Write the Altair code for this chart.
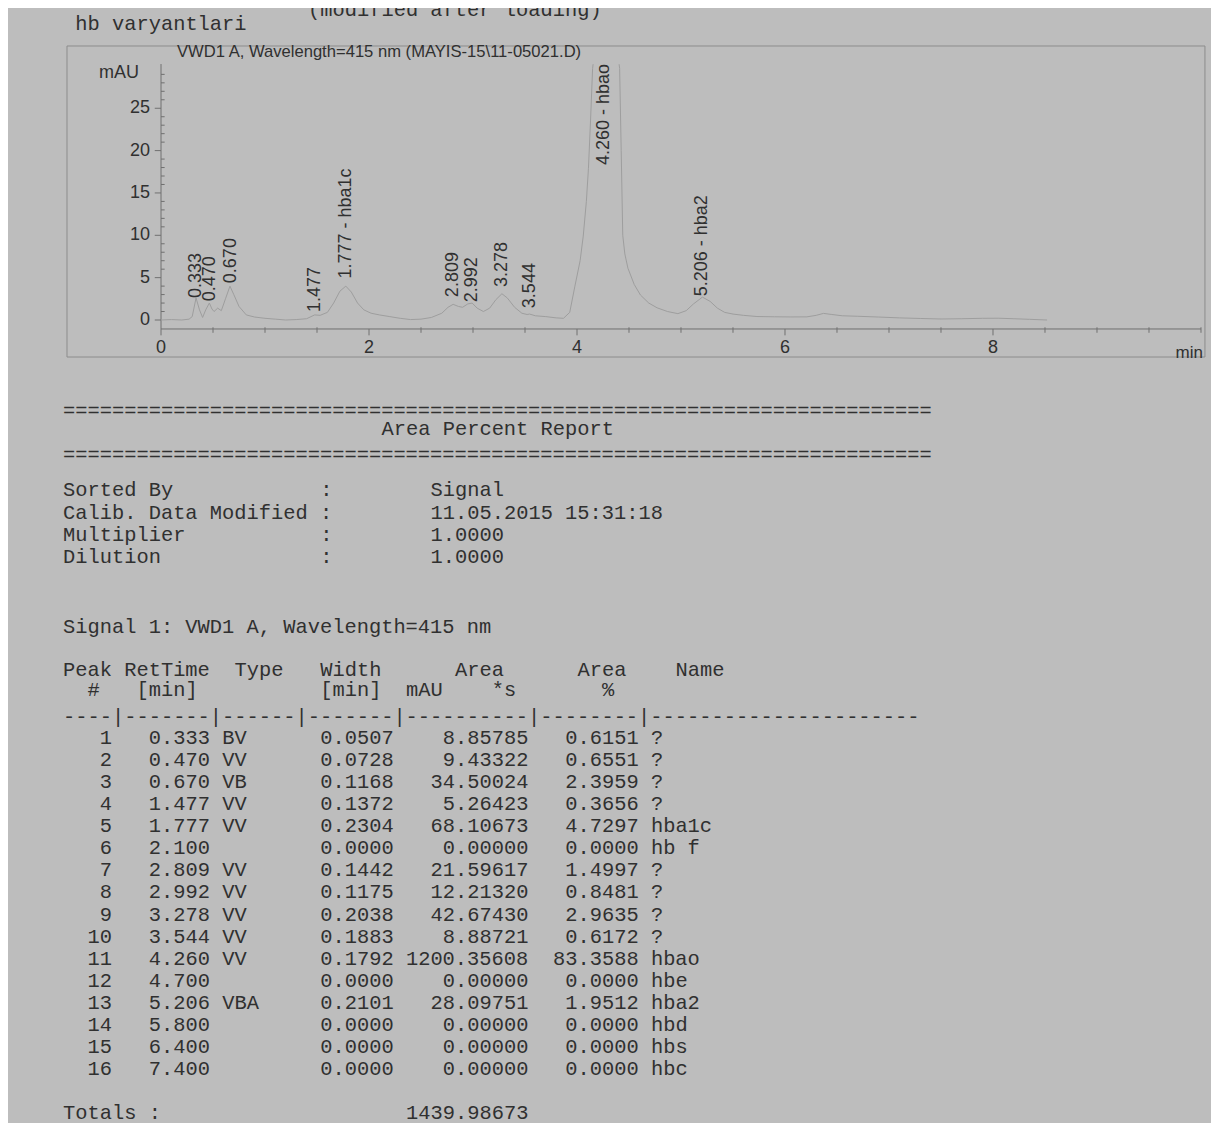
import re
import altair as alt
import pandas as pd

# ---------------- chromatogram trace (min, mAU) ----------------
# part before the off-scale hbao apex
trace_a_time = [0.00, 0.10, 0.20, 0.27, 0.30, 0.337, 0.37, 0.40, 0.43, 0.465,
                0.49, 0.51, 0.545, 0.58, 0.62, 0.663, 0.70, 0.75, 0.82, 0.90,
                1.00, 1.10, 1.20, 1.30, 1.40, 1.477, 1.53, 1.60, 1.66, 1.72,
                1.777, 1.83, 1.89, 1.95, 2.02, 2.10, 2.20, 2.30, 2.40, 2.50,
                2.60, 2.70, 2.76, 2.809, 2.86, 2.90, 2.95, 2.992, 3.04, 3.10,
                3.16, 3.22, 3.278, 3.33, 3.40, 3.47, 3.52, 3.544, 3.60, 3.70,
                3.80, 3.87, 3.93, 3.98, 4.03, 4.06, 4.09, 4.11, 4.13, 4.15, 4.155]
trace_a_mau = [0.00, 0.05, 0.00, 0.10, 0.40, 2.60, 1.20, 0.30, 1.20, 2.00,
               1.30, 1.00, 1.40, 1.10, 2.50, 4.00, 3.00, 1.60, 0.60, 0.35,
               0.20, 0.10, 0.00, 0.05, 0.15, 0.60, 0.55, 0.90, 2.00, 3.40,
               4.00, 3.30, 2.00, 1.20, 0.80, 0.60, 0.40, 0.20, 0.05, 0.10,
               0.30, 0.80, 1.50, 1.85, 1.60, 1.50, 1.90, 2.00, 1.40, 1.00,
               1.40, 2.40, 3.10, 2.60, 1.50, 0.80, 0.65, 0.70, 0.50, 0.40,
               0.25, 0.20, 0.90, 4.00, 7.00, 9.90, 14.00, 17.90, 23.50, 29.70, 30.20]
# part after the off-scale hbao apex
trace_b_time = [4.405, 4.41, 4.425, 4.44, 4.46, 4.49, 4.55, 4.61, 4.69, 4.77,
                4.87, 4.97, 5.05, 5.12, 5.206, 5.28, 5.35, 5.42, 5.50, 5.60,
                5.73, 5.90, 6.05, 6.21, 6.30, 6.37, 6.45, 6.55, 6.70, 6.90,
                7.10, 7.30, 7.50, 7.70, 7.90, 8.05, 8.20, 8.35, 8.52]
trace_b_mau = [30.20, 29.70, 20.00, 10.00, 7.80, 6.10, 4.20, 2.95, 2.00, 1.44,
               1.00, 0.75, 1.10, 1.90, 2.70, 2.20, 1.40, 0.90, 0.70, 0.55,
               0.41, 0.38, 0.36, 0.37, 0.55, 0.78, 0.65, 0.50, 0.44, 0.35,
               0.25, 0.18, 0.12, 0.15, 0.20, 0.21, 0.15, 0.08, 0.00]

peak_label_time = [0.333, 0.470, 0.670, 1.477, 1.777, 2.809, 2.992, 3.278, 3.544, 4.260, 5.206]
peak_label_text = ["0.333", "0.470", "0.670", "1.477", "1.777 - hba1c", "2.809", "2.992",
                   "3.278", "3.544", "4.260 - hbao", "5.206 - hba2"]
peak_label_mau = [2.6, 2.2, 4.35, 0.93, 4.9, 2.7, 2.1, 3.9, 1.4, 18.3, 2.8]

y_tick_labels = [0, 5, 10, 15, 20, 25]
y_minor_ticks = [v for v in range(0, 31) if v % 5 != 0]
x_tick_labels = [0, 2, 4, 6, 8]
x_minor_ticks = [i / 2 for i in range(1, 21) if (i / 2) not in (2.0, 4.0, 6.0, 8.0)]

chart_title = "VWD1 A, Wavelength=415 nm (MAYIS-15\\11-05021.D)"

# ---------------- report table ----------------
peak_no = list(range(1, 17))
ret_time = [0.333, 0.470, 0.670, 1.477, 1.777, 2.100, 2.809, 2.992,
            3.278, 3.544, 4.260, 4.700, 5.206, 5.800, 6.400, 7.400]
peak_type = ["BV", "VV", "VB", "VV", "VV", "", "VV", "VV",
             "VV", "VV", "VV", "", "VBA", "", "", ""]
peak_width = [0.0507, 0.0728, 0.1168, 0.1372, 0.2304, 0.0000, 0.1442, 0.1175,
              0.2038, 0.1883, 0.1792, 0.0000, 0.2101, 0.0000, 0.0000, 0.0000]
peak_area = [8.85785, 9.43322, 34.50024, 5.26423, 68.10673, 0.00000, 21.59617, 12.21320,
             42.67430, 8.88721, 1200.35608, 0.00000, 28.09751, 0.00000, 0.00000, 0.00000]
area_pct = [0.6151, 0.6551, 2.3959, 0.3656, 4.7297, 0.0000, 1.4997, 0.8481,
            2.9635, 0.6172, 83.3588, 0.0000, 1.9512, 0.0000, 0.0000, 0.0000]
peak_name = ["?", "?", "?", "?", "hba1c", "hb f", "?", "?",
             "?", "?", "hbao", "hbe", "hba2", "hbd", "hbs", "hbc"]
total_area = "1439.98673"

meta_labels = ["Sorted By", "Calib. Data Modified", "Multiplier", "Dilution"]
meta_values = ["Signal", "11.05.2015 15:31:18", "1.0000", "1.0000"]

# ---------------- geometry / style ----------------
W, H = 1203, 1115
BG = "#bdbdbd"
INK = "#303030"
TRACE_C = "#9e9e9e"
AXIS_C = "#707070"
FRAME_C = "#8c8c8c"
SANS = "Liberation Sans"
MONO = "Liberation Mono"

XS = alt.Scale(domain=[-1.4712, 10.0962], nice=False, zero=False)
YS = alt.Scale(domain=[-94.805, 36.836], nice=False, zero=False)
AXIS_V = -1.06
AXIS_TOP = 30.22
AXIS_END = 10.0


def X(f):
    return alt.X(f, type="quantitative", scale=XS, axis=None)


def Y(f):
    return alt.Y(f, type="quantitative", scale=YS, axis=None)


frame = alt.Chart(pd.DataFrame({"t0": [-0.904], "t1": [10.038], "v0": [-4.37], "v1": [32.35]})).mark_rect(
    fillOpacity=0, stroke=FRAME_C, strokeWidth=1
).encode(x=X("t0"), x2="t1", y=Y("v0"), y2="v1")

axes = alt.Chart(pd.DataFrame({"t0": [0, 0], "t1": [0, AXIS_END], "v0": [AXIS_V, AXIS_V],
                               "v1": [AXIS_TOP, AXIS_V]})).mark_rule(color=AXIS_C, strokeWidth=1).encode(
    x=X("t0"), x2="t1", y=Y("v0"), y2="v1")

ymaj = alt.Chart(pd.DataFrame({"v": y_tick_labels})).transform_calculate(t0="-0.06", t1="0").mark_rule(
    color=AXIS_C, strokeWidth=1).encode(x=X("t0:Q"), x2="t1:Q", y=Y("v"))
ymin = alt.Chart(pd.DataFrame({"v": y_minor_ticks})).transform_calculate(t0="0", t1="0.035").mark_rule(
    color=AXIS_C, strokeWidth=1).encode(x=X("t0:Q"), x2="t1:Q", y=Y("v"))
xmaj = alt.Chart(pd.DataFrame({"t": x_tick_labels})).transform_calculate(v0=str(AXIS_V), v1=str(AXIS_V - 0.75)).mark_rule(
    color=AXIS_C, strokeWidth=1).encode(x=X("t"), y=Y("v0:Q"), y2="v1:Q")
xmin = alt.Chart(pd.DataFrame({"t": x_minor_ticks})).transform_calculate(v0=str(AXIS_V + 0.2), v1=str(AXIS_V - 0.45)).mark_rule(
    color=AXIS_C, strokeWidth=1).encode(x=X("t"), y=Y("v0:Q"), y2="v1:Q")

ylab = alt.Chart(pd.DataFrame({"v": y_tick_labels, "s": [str(v) for v in y_tick_labels]})).transform_calculate(
    t="0").mark_text(align="right", baseline="middle", dx=-11, font=SANS, fontSize=18, color=INK).encode(
    x=X("t:Q"), y=Y("v"), text="s:N")
xlab = alt.Chart(pd.DataFrame({"t": x_tick_labels, "s": [str(v) for v in x_tick_labels]})).transform_calculate(
    v=str(AXIS_V)).mark_text(align="center", baseline="middle", dy=19, font=SANS, fontSize=18, color=INK).encode(
    x=X("t"), y=Y("v:Q"), text="s:N")
unit_y = alt.Chart(pd.DataFrame({"t": [0], "v": [29.16], "s": ["mAU"]})).mark_text(
    align="right", baseline="middle", dx=-22, font=SANS, fontSize=18, color=INK).encode(
    x=X("t"), y=Y("v"), text="s:N")
unit_x = alt.Chart(pd.DataFrame({"t": [AXIS_END], "v": [AXIS_V], "s": ["min"]})).mark_text(
    align="right", baseline="middle", dy=24, dx=2, font=SANS, fontSize=17, color=INK).encode(
    x=X("t"), y=Y("v"), text="s:N")
title = alt.Chart(pd.DataFrame({"t": [0.154], "v": [31.64], "s": [chart_title]})).mark_text(
    align="left", baseline="middle", font=SANS, fontSize=16.6, color=INK).encode(
    x=X("t"), y=Y("v"), text="s:N")

trace_df = pd.concat([
    pd.DataFrame({"t": trace_a_time, "v": trace_a_mau, "seg": "a"}),
    pd.DataFrame({"t": trace_b_time, "v": trace_b_mau, "seg": "b"}),
])
trace = alt.Chart(trace_df).mark_line(color=TRACE_C, strokeWidth=1).encode(
    x=X("t"), y=Y("v"), detail="seg:N")

peak_labels = alt.Chart(pd.DataFrame({"t": peak_label_time, "v": peak_label_mau, "s": peak_label_text})).mark_text(
    angle=270, align="left", baseline="middle", font=SANS, fontSize=18, color=INK).encode(
    x=X("t"), y=Y("v"), text="s:N")

chrom = alt.layer(frame, axes, ymaj, ymin, xmaj, xmin, trace, peak_labels, ylab, xlab, unit_y, unit_x, title)

# ---------------- report text (monospace grid: column, line) ----------------
lines = []
lines.append((-32.99, " " * 20 + "(modified after loading)"))
lines.append((-32.35, " hb varyantlari"))
lines.append((-14.82, "=" * 71))
lines.append((-14.0, " " * 26 + "Area Percent Report"))
lines.append((-12.82, "=" * 71))
for k, (lab, val) in enumerate(zip(meta_labels, meta_values)):
    lines.append(([-11.24, -10.19, -9.2, -8.2][k], f"{lab:<21}:" + " " * 8 + val))
lines.append((-5.03, "Signal 1: VWD1 A, Wavelength=415 nm"))


def place(items):
    s = ""
    for col, txt in items:
        s = s.ljust(col) + txt
    return s


lines.append((-3.08, place([(0, "Peak"), (5, "RetTime"), (14, "Type"), (21, "Width"),
                            (32, "Area"), (42, "Area"), (50, "Name")])))
lines.append((-2.17, place([(2, "#"), (6, "[min]"), (21, "[min]"), (28, "mAU"), (35, "*s"), (44, "%")])))
lines.append((-0.95, "----|-------|------|-------|----------|--------|" + "-" * 22))
for i in range(len(peak_no)):
    row = (f"{peak_no[i]:>4} {ret_time[i]:>7.3f} {peak_type[i]:<6} {peak_width[i]:>7.4f} "
           f"{peak_area[i]:>10.5f} {area_pct[i]:>8.4f} {peak_name[i]}")
    lines.append((float(i), row))
lines.append((17.0, place([(0, "Totals :"), (28, total_area)])))

tok_rows = []
for L, text in lines:
    for m in re.finditer(r"\S+(?: \S+)*", text):
        tok_rows.append({"c": m.start(), "L": L, "s": m.group()})
tok_df = pd.DataFrame(tok_rows)

XR = alt.Scale(domain=[-4.4898, 93.714], nice=False, zero=False)
YR = alt.Scale(domain=[-33.077, 17.445], nice=False, zero=False, reverse=True)

report = alt.Chart(tok_df).mark_text(
    align="left", baseline="middle", font=MONO, fontSize=20.4, color=INK
).encode(
    x=alt.X("c:Q", scale=XR, axis=None),
    y=alt.Y("L:Q", scale=YR, axis=None),
    text="s:N",
)

chart = alt.layer(chrom, report).resolve_scale(x="independent", y="independent").properties(
    width=W, height=H, padding=0, autosize=alt.AutoSizeParams(type="none"), background=BG
).configure_view(strokeWidth=0)

chart.save("out.html", embed_options={"renderer": "svg", "actions": False})
